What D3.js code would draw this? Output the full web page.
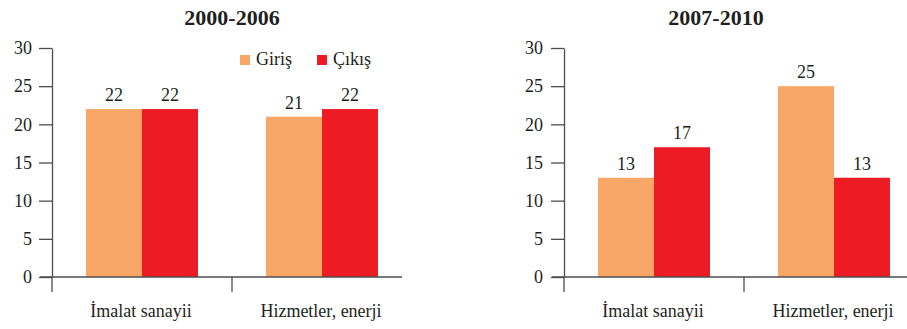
<!DOCTYPE html>
<html>
<head>
<meta charset="utf-8">
<script src="https://cdn.jsdelivr.net/npm/d3@7"></script>
<style>
  html, body { margin: 0; padding: 0; background: #fff; }
  svg { display: block; }
</style>
</head>
<body>
<svg id="chart" width="907" height="329"></svg>
<script>
// Categories, series and values for the two periods
const categories = ["İmalat sanayii", "Hizmetler, enerji"];
const seriesNames = ["Giriş", "Çıkış"];
const seriesColors = ["#f9a766", "#ed1c24"];
const yTicks = [0, 5, 10, 15, 20, 25, 30];

const panelTitles = ["2000-2006", "2007-2010"];
const girisValues = [[22, 21], [13, 25]];
const cikisValues = [[22, 22], [17, 13]];

const FONT = "'Liberation Serif', 'Times New Roman', serif";
const INK = "#231f20";
const AXIS = "#4d4d4f";

const svg = d3.select("#chart");

// Layout for each panel: left edge of plot, tick label padding, title centre
const panels = [
  { left: 52, pad: 7, titleX: 232, legend: true },
  { left: 564, pad: 8, titleX: 716, legend: false }
];

const plotTop = 48, plotBottom = 277, step = 180;

panels.forEach((p, i) => {
  const g = svg.append("g");

  const y = d3.scaleLinear().domain([0, 30]).range([plotBottom, plotTop]);
  const x = d3.scaleBand().domain(categories)
    .range([p.left, p.left + step * categories.length])
    .paddingInner(0).paddingOuter(0);
  const x1 = d3.scaleBand().domain(seriesNames)
    .range([0, x.bandwidth()])
    .paddingInner(0).paddingOuter(34 / 56);
  const color = d3.scaleOrdinal().domain(seriesNames).range(seriesColors);

  // Title
  g.append("text")
    .attr("x", p.titleX).attr("y", 25)
    .attr("text-anchor", "middle")
    .style("font-size", "22px").style("font-weight", "bold")
    .text(panelTitles[i]);

  // Bars
  const rows = categories.map((c, k) => ({
    cat: c,
    vals: [
      { s: seriesNames[0], v: girisValues[i][k] },
      { s: seriesNames[1], v: cikisValues[i][k] }
    ]
  }));

  const grp = g.selectAll("g.grp").data(rows).enter().append("g")
    .attr("class", "grp")
    .attr("transform", d => `translate(${x(d.cat)},0)`);

  grp.selectAll("rect").data(d => d.vals).enter().append("rect")
    .attr("x", d => x1(d.s))
    .attr("width", x1.bandwidth())
    .attr("y", d => y(d.v))
    .attr("height", d => y(0) - y(d.v))
    .attr("fill", d => color(d.s));

  grp.selectAll("text.val").data(d => d.vals).enter().append("text")
    .attr("class", "val")
    .attr("x", d => x1(d.s) + x1.bandwidth() / 2)
    .attr("y", d => y(d.v) - 8)
    .attr("text-anchor", "middle")
    .style("font-size", "18px")
    .text(d => d.v);

  // Y axis
  const yAxis = d3.axisLeft(y).tickValues(yTicks).tickSize(13).tickSizeOuter(0).tickPadding(p.pad);
  const ya = g.append("g").attr("transform", `translate(${p.left},0)`).call(yAxis);
  ya.selectAll("path, line").attr("stroke", AXIS).attr("stroke-width", 1.3);
  ya.selectAll("text").style("font-size", "18px");

  // X axis: baseline with separators at the start of each category band
  g.append("line")
    .attr("x1", p.left - 12).attr("x2", p.left + step * categories.length - 10)
    .attr("y1", plotBottom).attr("y2", plotBottom)
    .attr("stroke", AXIS).attr("stroke-width", 1.3);
  g.selectAll("line.sep").data(categories).enter().append("line")
    .attr("class", "sep")
    .attr("x1", d => x(d)).attr("x2", d => x(d))
    .attr("y1", plotBottom).attr("y2", plotBottom + 15)
    .attr("stroke", AXIS).attr("stroke-width", 1.3);
  g.selectAll("text.cat").data(categories).enter().append("text")
    .attr("class", "cat")
    .attr("x", d => x(d) + x.bandwidth() / 2 - 1)
    .attr("y", 317)
    .attr("text-anchor", "middle")
    .style("font-size", "18px")
    .text(d => d);

  // Legend
  if (p.legend) {
    const lx = [240, 317];
    const lg = g.selectAll("g.leg").data(seriesNames).enter().append("g")
      .attr("class", "leg")
      .attr("transform", (d, k) => `translate(${lx[k]},55)`);
    lg.append("rect").attr("width", 10).attr("height", 10).attr("fill", d => color(d));
    lg.append("text").attr("x", 16).attr("y", 10)
      .style("font-size", "18px").text(d => d);
  }
});

// Shared typography for every label
svg.selectAll("text").style("font-family", FONT).attr("fill", INK);
</script>
</body>
</html>
